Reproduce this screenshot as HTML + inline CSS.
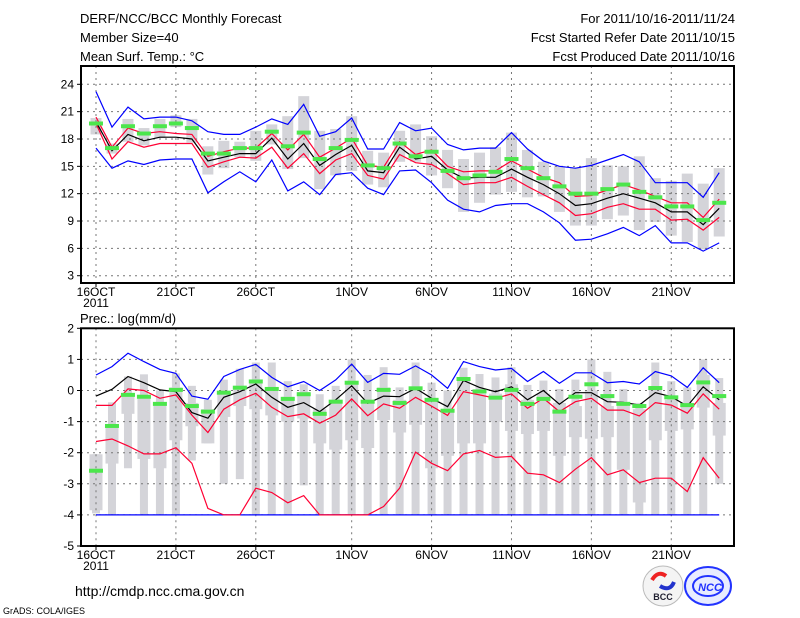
<!DOCTYPE html>
<html><head><meta charset="utf-8"><style>
body{margin:0;background:#fff;}
svg{display:block;font-family:"Liberation Sans",sans-serif;}
</style></head><body>
<svg id="c" width="800" height="618" xmlns="http://www.w3.org/2000/svg">
<rect width="800" height="618" fill="#fff"/>
<g font-size="13" fill="#000">
<text x="80" y="23">DERF/NCC/BCC Monthly Forecast</text>
<text x="80" y="42">Member Size=40</text>
<text x="80" y="61">Mean Surf. Temp.: °C</text>
<text x="735" y="23" text-anchor="end">For 2011/10/16-2011/11/24</text>
<text x="735" y="42" text-anchor="end">Fcst Started Refer Date 2011/10/15</text>
<text x="735" y="61" text-anchor="end">Fcst Produced Date 2011/10/16</text>
<text x="80" y="323">Prec.: log(mm/d)</text>
<text x="75" y="596" font-size="14">http://cmdp.ncc.cma.gov.cn</text>
<text x="3" y="614" font-size="9">GrADS: COLA/IGES</text>
</g>
<g id="top"></g>
<g id="bot"></g>
<g>
<circle cx="663" cy="586" r="20" fill="#f4f4f4" stroke="#bbb"/>
<path d="M652 580 q6 -10 14 -4" stroke="#e22" stroke-width="4" fill="none"/>
<path d="M674 582 q-4 10 -14 4" stroke="#23c" stroke-width="4" fill="none"/>
<text x="663" y="600" font-size="9" font-weight="bold" text-anchor="middle" fill="#223">BCC</text>
</g>
<g>
<ellipse cx="708" cy="586" rx="23" ry="19" fill="#e8ecff" stroke="#23f" stroke-width="2"/>
<ellipse cx="708" cy="586" rx="15" ry="10" fill="none" stroke="#23f" stroke-width="2"/>
<text x="710" y="591" font-size="11" font-style="italic" font-weight="bold" text-anchor="middle" fill="#23f">NCC</text>
</g>
</svg>
<script>
const tBlueHi=[23.2,19.3,21.5,20.2,20.4,20.4,20.0,18.8,18.5,18.5,19.3,20.2,19.6,21.8,18.3,18.8,20.3,16.9,16.9,19.8,18.9,19.2,17.4,16.8,17.0,17.0,18.7,16.9,15.6,15.0,14.8,15.1,15.7,16.3,15.5,13.2,13.2,13.2,11.6,14.3];
const tBlueLo=[17.0,14.8,15.6,15.2,15.7,15.8,15.8,12.1,13.3,14.4,13.3,15.7,12.3,13.3,11.9,14.1,14.3,12.6,11.9,14.5,14.6,13.2,11.3,10.3,10.0,10.7,10.9,10.9,10.0,8.8,6.9,7.0,7.6,8.3,7.4,8.5,6.6,6.6,5.7,6.6];
const tRedHi=[20.4,17.1,19.2,18.6,18.8,18.6,18.5,16.1,16.6,17.0,17.0,18.6,16.8,18.5,16.0,17.0,18.1,15.1,14.9,17.7,16.3,16.8,15.0,14.4,14.5,14.5,15.6,14.7,13.8,13.2,11.7,11.8,12.4,13.0,12.4,11.7,11.0,11.0,9.4,11.4];
const tRedLo=[19.7,15.8,17.7,17.1,17.5,17.5,17.5,14.9,15.5,16.0,15.9,17.1,14.8,16.4,14.2,15.7,16.4,14.0,13.6,16.3,15.4,15.2,14.2,13.0,13.2,13.2,13.8,12.8,11.9,11.0,9.6,9.8,10.5,10.9,10.3,10.3,9.1,9.2,8.0,9.4];
const tMean=[19.9,16.7,18.5,17.8,18.2,18.2,18.0,15.6,16.0,16.4,16.4,18.1,15.8,17.5,15.1,16.3,17.3,14.5,14.3,17.1,15.8,16.1,14.6,13.7,13.8,13.8,14.7,13.8,13.0,12.0,10.7,10.9,11.5,12.0,11.5,11.0,10.0,10.0,8.6,10.4];
const tObs=[19.7,17.0,19.4,18.6,19.4,19.7,19.2,16.4,16.4,17.0,17.0,18.8,17.2,18.7,15.8,17.0,17.9,15.1,14.8,17.5,16.1,16.6,14.5,13.7,14.0,14.4,15.8,14.8,13.7,12.8,12.0,12.0,12.5,13.0,12.2,11.6,10.6,10.6,9.1,11.0];
const tMax=[20.3,17.5,20.2,19.2,20.2,20.6,20.2,17.2,17.8,17.7,18.9,19.6,20.5,22.7,18.9,19.1,20.5,16.7,16.5,18.9,19.6,18.3,16.8,15.8,16.5,17.1,18.7,16.8,15.5,15.0,14.8,15.9,15.1,15.0,16.1,13.7,13.4,14.2,13.1,14.8];
const tMin=[18.5,16.4,17.7,17.3,18.1,19.3,17.6,14.1,14.8,16.0,15.6,17.4,14.7,15.9,12.5,14.0,14.5,13.0,12.7,15.5,15.5,14.0,12.6,10.0,11.0,11.9,12.2,11.6,11.7,10.0,8.5,8.5,9.2,9.6,8.0,8.9,7.4,6.7,5.9,7.3];
const pBlueHi=[0.50,0.77,1.2,0.93,0.68,0.55,-0.18,-0.28,0.45,0.68,0.84,0.42,0.12,0.29,0.0,0.34,0.85,0.26,0.55,0.52,0.79,0.5,0.07,0.93,0.77,0.66,0.71,0.29,0.61,0.23,0.57,0.57,0.25,0.29,0.21,0.61,0.47,0.10,0.73,0.25];
const pBlueLo=[-4,-4,-4,-4,-4,-4,-4,-4,-4,-4,-4,-4,-4,-4,-4,-4,-4,-4,-4,-4,-4,-4,-4,-4,-4,-4,-4,-4,-4,-4,-4,-4,-4,-4,-4,-4,-4,-4,-4,-4];
const pRedHi=[-0.48,-0.48,0.05,0.0,-0.25,-0.14,-0.79,-1.35,-0.60,-0.30,-0.09,-0.54,-0.84,-0.75,-1.05,-0.79,-0.27,-0.81,-0.43,-0.57,-0.22,-0.5,-0.8,-0.04,-0.14,-0.25,-0.11,-0.57,-0.25,-0.68,-0.36,-0.25,-0.63,-0.63,-0.82,-0.39,-0.47,-0.73,-0.11,-0.6];
const pRedLo=[-1.64,-1.56,-1.78,-2.04,-2.04,-1.84,-2.34,-3.79,-4,-4,-3.14,-3.28,-3.61,-3.38,-4,-4,-4,-4,-3.73,-3.14,-1.98,-2.34,-2.58,-2.04,-1.93,-2.15,-2.12,-2.66,-2.71,-2.96,-2.53,-2.16,-2.71,-2.55,-2.96,-2.82,-2.82,-3.25,-2.16,-2.82];
const pMean=[-0.18,0.04,0.45,0.25,0.02,-0.04,-0.71,-0.89,-0.22,-0.04,0.21,-0.22,-0.54,-0.39,-0.68,-0.30,0.15,-0.41,-0.18,-0.2,0.07,-0.25,-0.52,0.32,0.1,-0.04,0.12,-0.3,0.0,-0.44,-0.07,-0.07,-0.36,-0.38,-0.47,-0.07,-0.2,-0.5,0.12,-0.3];
const pObs=[-2.58,-1.14,-0.14,-0.2,-0.43,0.02,-0.5,-0.68,-0.07,0.09,0.29,0.05,-0.27,-0.12,-0.75,-0.36,0.25,-0.36,0.02,-0.4,0.07,-0.3,-0.65,0.37,-0.03,-0.23,0.02,-0.43,-0.27,-0.68,-0.2,0.2,-0.18,-0.43,-0.5,0.08,-0.22,-0.47,0.26,-0.18];
const pMax=[-2.05,-0.38,0.45,0.52,0.0,0.55,0.15,-0.3,0.35,0.7,0.9,0.9,0.3,0.2,-0.12,0.15,1.0,0.5,0.75,0.1,0.9,0.25,0.0,0.73,0.53,0.42,0.75,0.18,0.32,0.05,0.35,1.0,0.6,0.05,-0.4,0.9,0.3,0.1,1.0,0.4];
const pQ3=[-2.05,-1.1,-0.1,-0.15,-0.4,0.1,-0.4,-0.6,-0.05,0.15,0.35,0.1,-0.2,-0.05,-0.6,-0.3,0.3,-0.3,0.1,-0.3,0.1,-0.25,-0.65,0.35,-0.1,-0.1,0.2,-0.3,-0.1,-0.4,-0.5,0.0,-0.5,-0.5,-0.6,0.1,-0.3,-0.4,0.5,-0.4];
const pQ1=[-3.85,-2.35,-0.75,-2.2,-2.5,-1.6,-1.15,-1.7,-0.85,-0.5,-0.6,-0.8,-1.0,-0.9,-1.7,-1.9,-1.6,-1.85,-0.95,-1.35,-1.1,-2.5,-2.1,-1.7,-1.7,-1.0,-1.3,-1.4,-1.3,-2.1,-1.5,-1.55,-1.5,-2.55,-3.6,-1.6,-1.3,-1.25,-0.55,-1.45];
const pMin=[-3.95,-4,-2.5,-4,-4,-4,-2.25,-1.7,-3.0,-2.85,-4,-4,-4,-3.05,-4,-4,-4,-4,-4,-4,-4,-4,-4,-4,-4,-4,-4,-4,-4,-4,-4,-4,-4,-4,-4,-4,-4,-4,-4,-3.0];
const xLabels=["16OCT","21OCT","26OCT","1NOV","6NOV","11NOV","16NOV","21NOV"];
const xLabelDays=[0,5,10,16,21,26,31,36];
const tTicks=[3,6,9,12,15,18,21,24];
const pTicks=[-5,-4,-3,-2,-1,0,1,2];

const NS="http://www.w3.org/2000/svg";
const X0=81,X1=734;
const xDay=d=>96+15.98*d;
const yT=v=>275.7-(v-3)*9.114;
const yB=v=>328.3+(2-v)*31.1;
function mk(tag,attrs,parent){const e=document.createElementNS(NS,tag);for(const k in attrs)e.setAttribute(k,attrs[k]);parent.appendChild(e);return e;}

function panel(g,top,bot,ticks,yf,prefix){
  ticks.forEach(t=>{
    const y=yf(t);
    if(y>top+2&&y<bot-2){const l=mk('line',{x1:X0,x2:X1,y1:y,y2:y,stroke:'#777','stroke-dasharray':'2,4'},g);
    
    }
    const tx=mk('text',{x:74,y:y+4,'font-size':12,'text-anchor':'end'},g);tx.textContent=t;
    
    
    const tk=mk('line',{x1:X0-4,x2:X0,y1:y,y2:y,stroke:'#000'},g);
    
    
  });
  xLabelDays.forEach((d,i)=>{
    const x=xDay(d);
    const l=mk('line',{x1:x,x2:x,y1:top,y2:bot,stroke:'#777','stroke-dasharray':'2,4'},g);
    
    
    const tx=mk('text',{x:x,y:bot+13,'font-size':12,'text-anchor':'middle'},g);tx.textContent=xLabels[i];
    
    
    const tk=mk('line',{x1:x,x2:x,y1:bot,y2:bot+4,stroke:'#000'},g);
    
    
  });
  const yr=mk('text',{x:96,y:bot+24,'font-size':12,'text-anchor':'middle'},g);yr.textContent='2011';
  
  
}
function bar(g,x,y1,y2,w,name){const r=mk('rect',{x:x-w/2,y:Math.min(y1,y2),width:w,height:Math.max(1,Math.abs(y2-y1)),fill:'#d4d4d9'},g);
  
  }
function line(g,arr,yf,color,name){const p=mk('polyline',{points:arr.map((v,i)=>xDay(i).toFixed(1)+','+yf(v).toFixed(1)).join(' '),fill:'none',stroke:color,'stroke-width':1.2},g);
  
  }
function obs(g,arr,yf,name){arr.forEach((v,i)=>{const r=mk('rect',{x:xDay(i)-7,y:yf(v)-2,width:14,height:4,fill:'#4ce64c'},g);
  
  });}

// top panel
const gT=document.getElementById('top');
tMax.forEach((v,i)=>bar(gT,xDay(i),yT(v),yT(tMin[i]),11,'temp-ensemble-range'));
panel(gT,66,283,tTicks,yT,'temp');
line(gT,tBlueHi,yT,'#0000ff','temp-max-line');
line(gT,tBlueLo,yT,'#0000ff','temp-min-line');
line(gT,tRedHi,yT,'#ff0033','temp-upper-line');
line(gT,tRedLo,yT,'#ff0033','temp-lower-line');
line(gT,tMean,yT,'#000','temp-mean-line');
obs(gT,tObs,yT,'temp-obs-marker');
const fT=mk('rect',{x:X0,y:66,width:X1-X0,height:217,fill:'none',stroke:'#000','stroke-width':2},gT);



// bottom panel
const gB=document.getElementById('bot');
pMax.forEach((v,i)=>{bar(gB,xDay(i),yB(v),yB(pMin[i]),8,'precip-whisker');bar(gB,xDay(i),yB(pQ3[i]),yB(pQ1[i]),13,'precip-box');});
panel(gB,328.3,546,pTicks,yB,'precip');
line(gB,pBlueLo,yB,'#0000ff','precip-min-line');
line(gB,pRedLo,yB,'#ff0033','precip-lower-line');
line(gB,pRedHi,yB,'#ff0033','precip-upper-line');
line(gB,pBlueHi,yB,'#0000ff','precip-max-line');
line(gB,pMean,yB,'#000','precip-mean-line');
obs(gB,pObs,yB,'precip-obs-marker');
const fB=mk('rect',{x:X0,y:328.3,width:X1-X0,height:217.7,fill:'none',stroke:'#000','stroke-width':2},gB);


</script>
</body></html>
